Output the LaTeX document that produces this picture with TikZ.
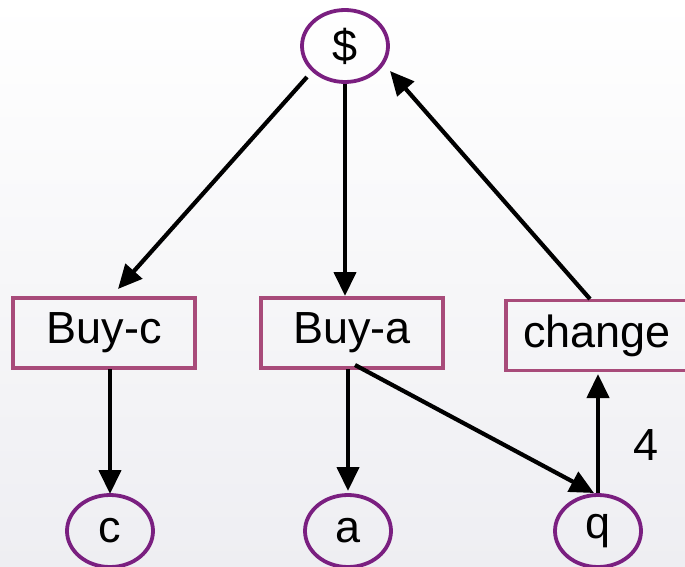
\documentclass[tikz,border=0pt]{standalone}
\usepackage{fontspec}
\setmainfont{Liberation Sans}
\usetikzlibrary{shapes.geometric,arrows.meta}
\definecolor{ellcol}{RGB}{122,31,128}
\definecolor{boxcol}{RGB}{168,75,122}
\definecolor{bgbot}{RGB}{238,238,242}
\tikzset{
  lbl/.style={font=\fontsize{45}{50}\selectfont, text=black},
  statenode/.style={lbl, ellipse, draw=ellcol, line width=3.8pt, minimum width=86pt, minimum height=72pt, inner sep=0pt},
  actbox/.style={lbl, rectangle, draw=boxcol, line width=3.8pt, minimum width=182pt, minimum height=70pt, inner sep=0pt},
  arr/.style={line width=4.2pt, -{Triangle[length=24pt,width=22pt]}}
}
\begin{document}
\begin{tikzpicture}[x=1pt,y=-1pt]
\shade[top color=white, bottom color=bgbot] (0,0) rectangle (685,567);
\useasboundingbox (0,0) rectangle (685,567);
\node[statenode] (dollar) at (345,46) {\$};
\node[actbox] (buyc) at (104,333) {Buy-c};
\node[actbox] (buya) at (352,333) {Buy-a};
\node[actbox] (change) at (597,335.5) {change};
\node[statenode] (c) at (110,531) {c};
\node[statenode] (a) at (348,531) {a};
\node[statenode] (q) at (598,531) {q};
\node[lbl] (four) at (646,445) {4};
% connector end points
\coordinate (s1) at (307,77);   \coordinate (e1) at (118,289);
\coordinate (s2) at (345,84);   \coordinate (e2) at (345,296);
\coordinate (s3) at (590,299);  \coordinate (e3) at (390,71);
\coordinate (s4) at (110,369);  \coordinate (e4) at (110,494);
\coordinate (s5) at (348,369);  \coordinate (e5) at (348,491);
\coordinate (s6) at (355,365);  \coordinate (e6) at (594,493);
\coordinate (s7) at (598,493);  \coordinate (e7) at (598,374);
\draw[arr] (s1) -- (e1);
\draw[arr] (s2) -- (e2);
\draw[arr] (s3) -- (e3);
\draw[arr] (s4) -- (e4);
\draw[arr] (s5) -- (e5);
\draw[arr] (s6) -- (e6);
\draw[arr] (s7) -- (e7);
\end{tikzpicture}
\end{document}
